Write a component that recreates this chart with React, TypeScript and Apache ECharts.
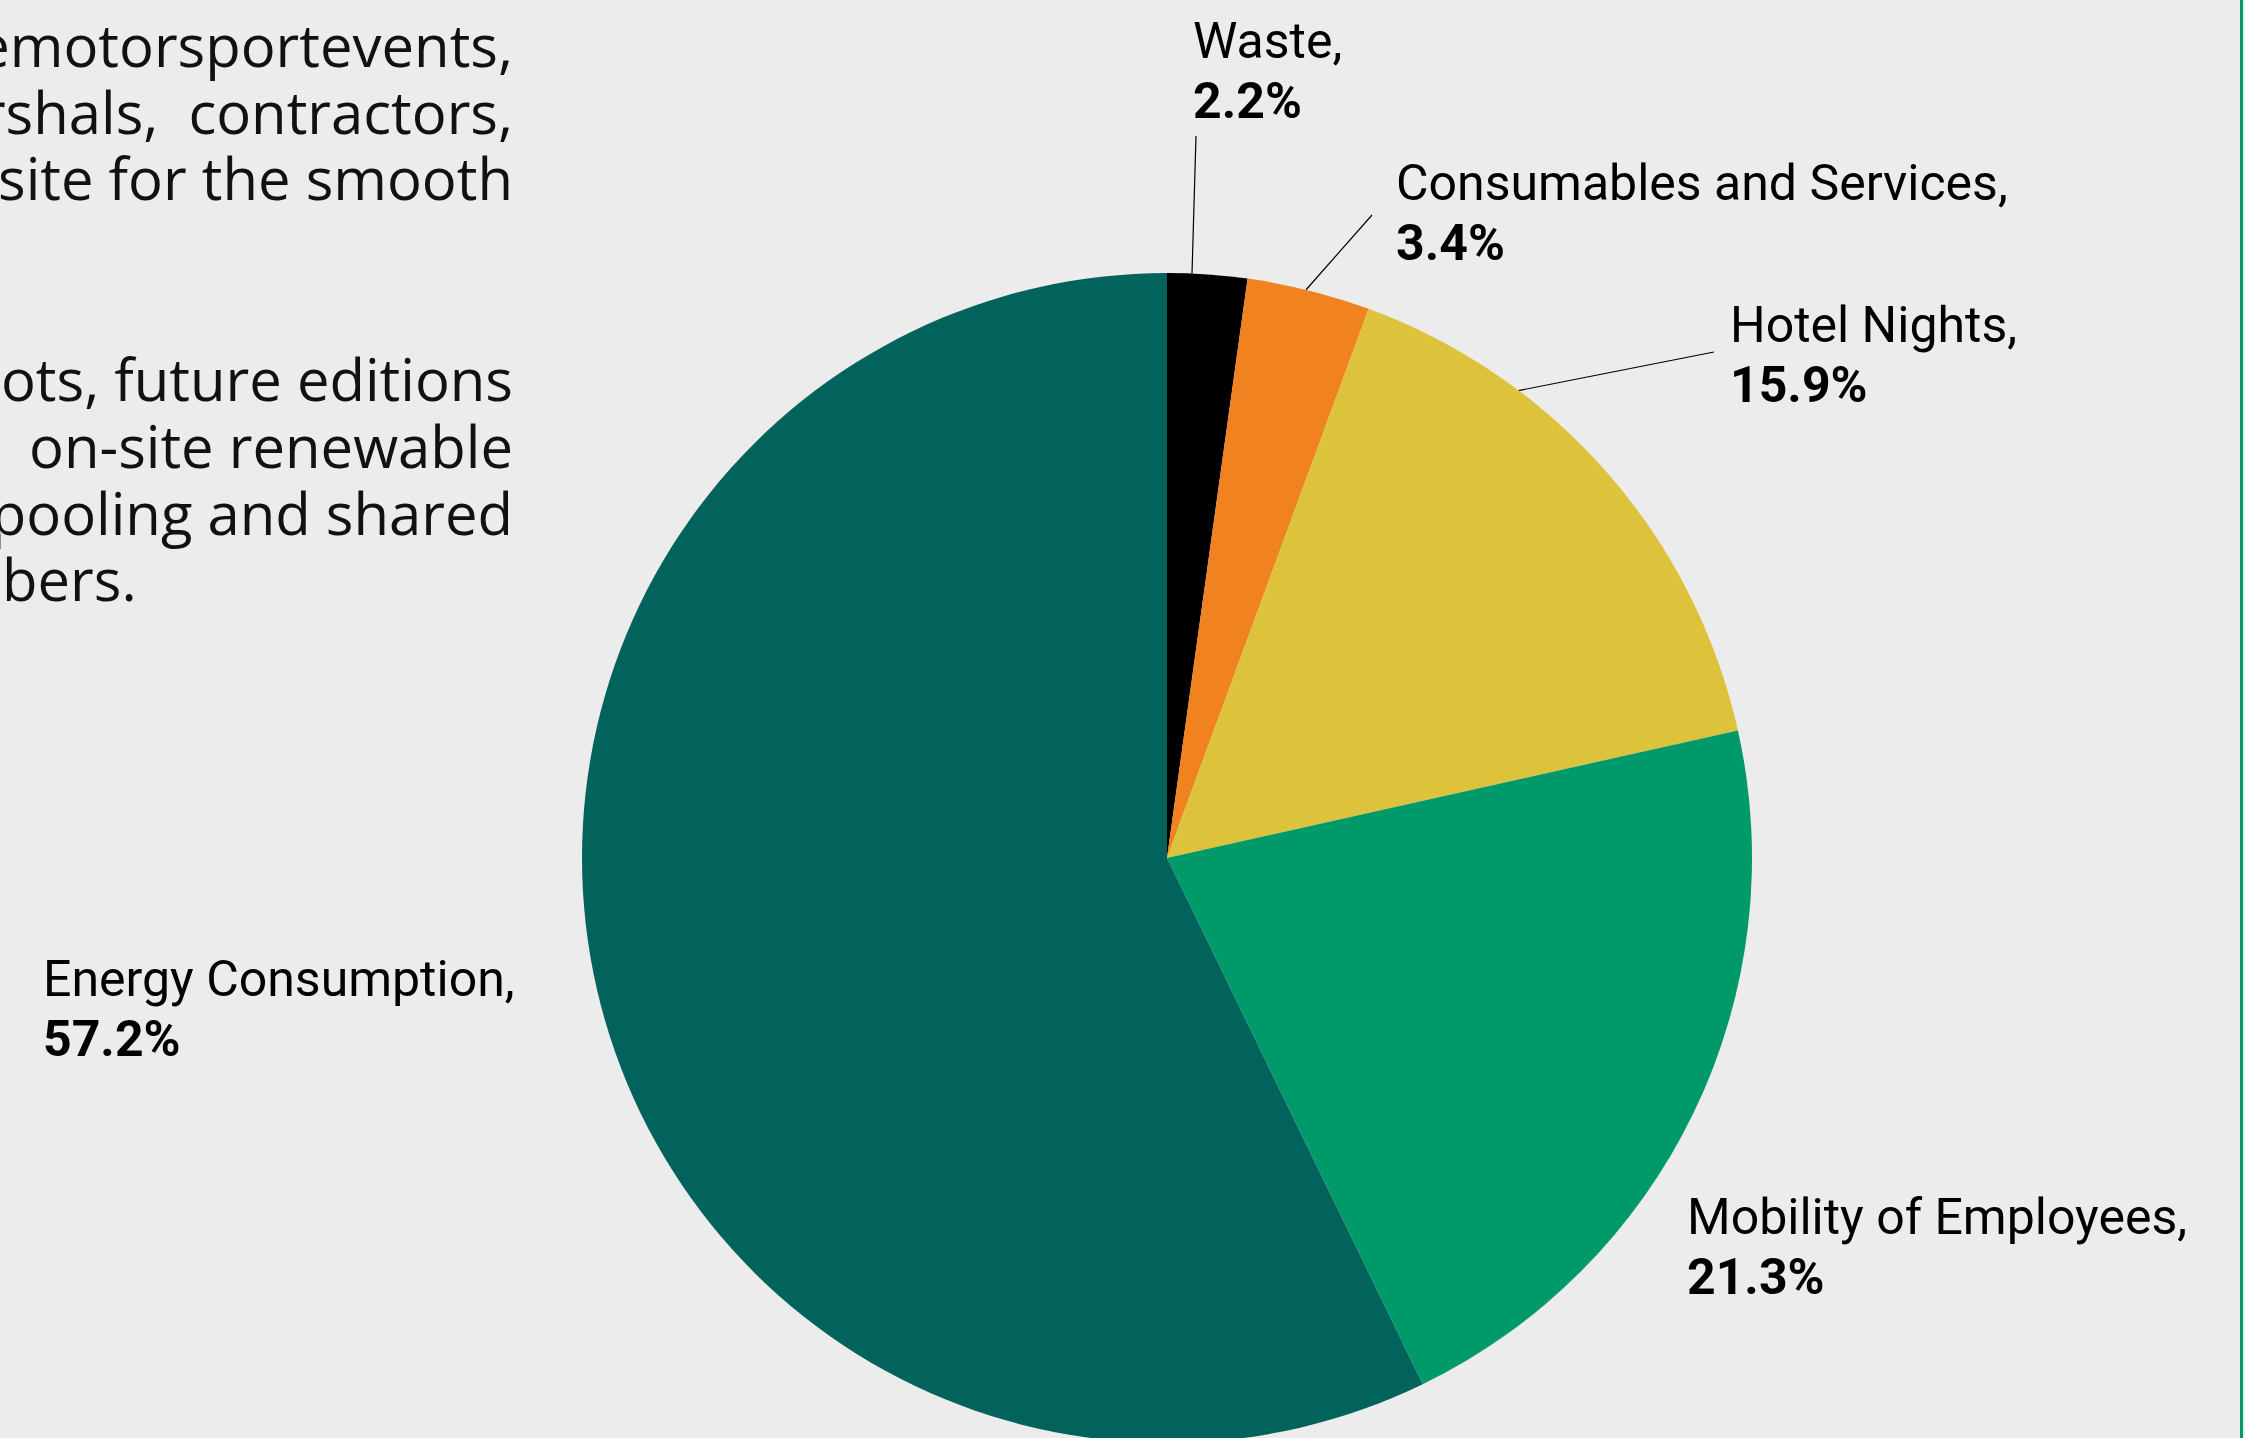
import React, { useEffect, useRef } from "react";
import * as echarts from "echarts";

// ---- data ----
const categories = [
  "Waste",
  "Consumables and Services",
  "Hotel Nights",
  "Mobility of Employees",
  "Energy Consumption",
];
const shares = [2.2, 3.4, 15.9, 21.3, 57.2];
const sliceColors = ["#000000", "#F0821F", "#DCC33B", "#009A6A", "#02635C"];
const showLeader = [true, true, true, false, false];

const bodyLines = [
  "emotorsportevents,",
  "rshals,  contractors,",
  "site for the smooth",
  "ots, future editions",
  " on-site renewable",
  "pooling and shared",
];
const bodyLastLine = "bers.";

// ---- layout (positions, not data) ----
const W = 2245;
const H = 1438;
const CX = 1167;
const CY = 858;
const R = 585;
const labelFont = '"Liberation Sans Narrow", "Arial Narrow", Roboto, sans-serif';
const bodyFont = '"Open Sans", sans-serif';
const labelSize = 50;
const labelPos = [
  { x: 1193, y: 11 },
  { x: 1396, y: 153 },
  { x: 1730, y: 295 },
  { x: 1687, y: 1187 },
  { x: 43, y: 949 },
];
// angle (deg, clockwise from 12 o'clock) where leader touches the pie, and the label-side end
const leaderAngle = [2.45, 13.75, 36.96, 0, 0];
const leaderEnd = [
  [1196, 136],
  [1372, 215],
  [1714, 352],
  [0, 0],
  [0, 0],
];
const bodyBaselines = [67, 134, 200, 401, 468, 535];
const bodyLastBaseline = 601;

export default function App() {
  const ref = useRef<HTMLDivElement>(null);
  useEffect(() => {
    document.body.style.margin = "0";
    const chart = echarts.init(ref.current!, null, { renderer: "svg" });
    const bodyFontSize = 58;
    const off = bodyFontSize * 0.39;
    const graphics: any[] = bodyLines.map((t, i) => ({
      type: "text",
      x: 513,
      y: bodyBaselines[i] - off,
      style: {
        text: t,
        font: `${bodyFontSize}px ${bodyFont}`,
        lineHeight: 60,
        fill: "#111111",
        align: "right",
        verticalAlign: "middle",
      },
    }));
    graphics.push({
      type: "text",
      x: 2,
      y: bodyLastBaseline - off,
      style: {
        text: bodyLastLine,
        font: `${bodyFontSize}px ${bodyFont}`,
        lineHeight: 60,
        fill: "#111111",
        align: "left",
        verticalAlign: "middle",
      },
    });
    graphics.push({
      type: "rect",
      shape: { x: 2240, y: 0, width: 3, height: H },
      style: { fill: "#009A6A" },
    });

    chart.setOption({
      animation: false,
      backgroundColor: "#ECECEC",
      graphic: graphics,
      series: [
        {
          type: "pie",
          center: [CX, CY],
          radius: R,
          startAngle: 90,
          clockwise: true,
          avoidLabelOverlap: false,
          silent: true,
          emphasis: { disabled: true },
          itemStyle: { borderWidth: 0 },
          label: {
            show: true,
            position: "outside",
            color: "#000",
            fontFamily: labelFont,
            fontSize: labelSize,
            lineHeight: 60,
            formatter: (p: any) => `{n|${p.name},}\n{v|${Number(p.value).toFixed(1)}%}`,
            rich: {
              n: { fontFamily: labelFont, fontSize: labelSize, lineHeight: 60, color: "#000" },
              v: { fontFamily: labelFont, fontSize: labelSize, lineHeight: 60, fontWeight: "bold", color: "#000" },
            },
          },
          labelLine: { show: true, lineStyle: { color: "#000", width: 1.2 } },
          labelLayout: (params: any) => {
            const i = params.dataIndex;
            const out: any = {
              x: labelPos[i].x,
              y: labelPos[i].y,
              align: "left",
              verticalAlign: "top",
            };
            if (showLeader[i]) {
              const a = (leaderAngle[i] * Math.PI) / 180;
              const sx = CX + R * Math.sin(a);
              const sy = CY - R * Math.cos(a);
              const [ex, ey] = leaderEnd[i];
              out.labelLinePoints = [
                [sx, sy],
                [(sx + ex) / 2, (sy + ey) / 2],
                [ex, ey],
              ];
            }
            return out;
          },
          data: categories.map((c, i) => ({
            name: c,
            value: shares[i],
            itemStyle: { color: sliceColors[i] },
            labelLine: { show: showLeader[i] },
          })),
        },
      ],
    });
    return () => chart.dispose();
  }, []);
  return <div ref={ref} style={{ width: W, height: H }} />;
}
